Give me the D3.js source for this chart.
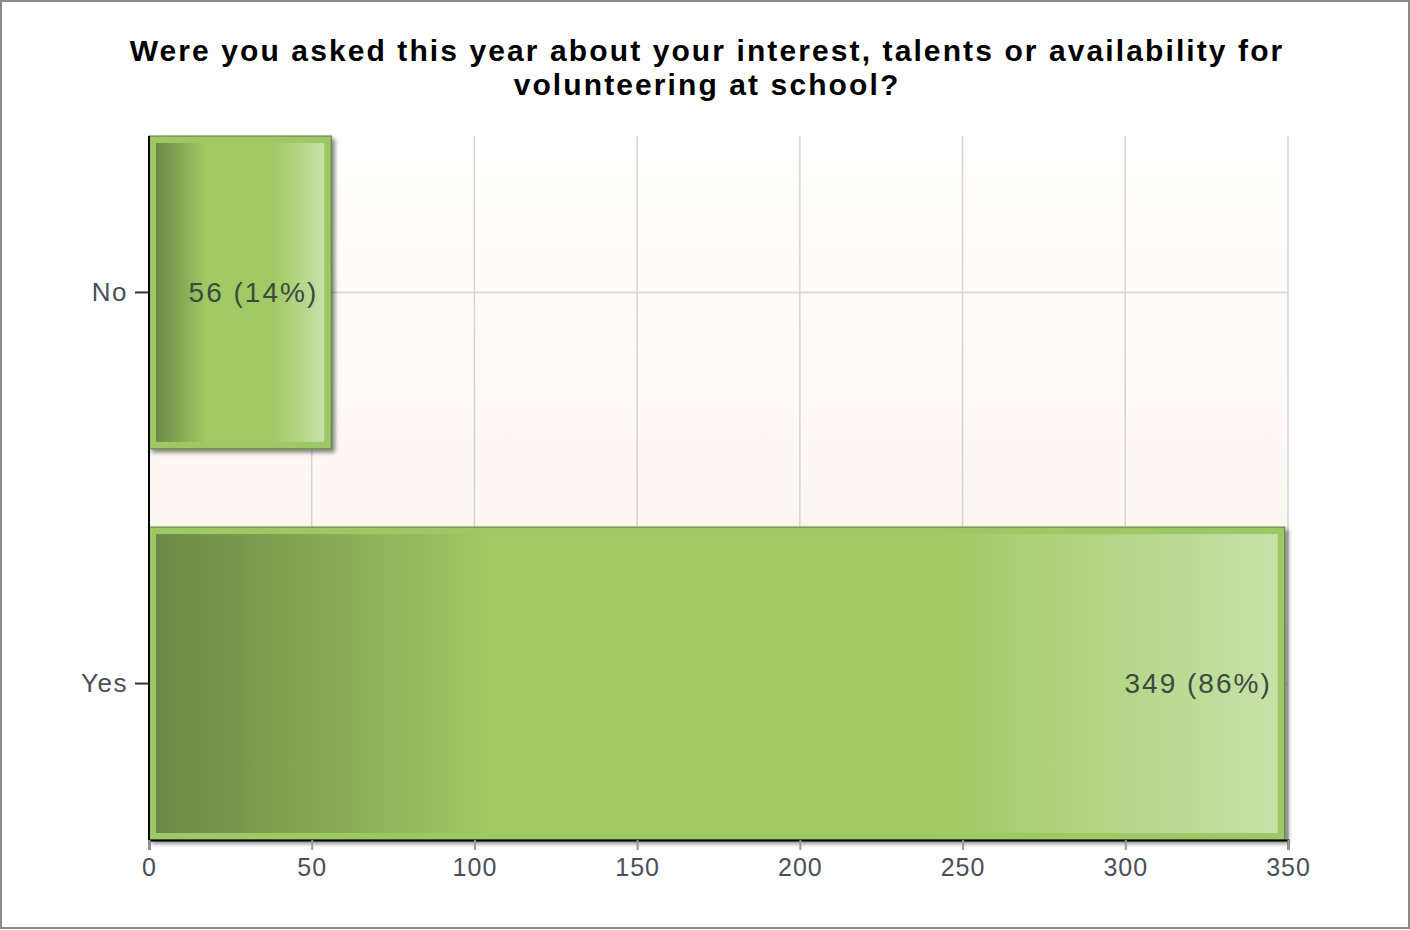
<!DOCTYPE html>
<html lang="en">
<head>
<meta charset="utf-8">
<title>Volunteering question</title>
<script src="https://cdn.jsdelivr.net/npm/d3@7"></script>
<style>
  body { margin: 0; background: #fff; }
  svg text { font-family: "Liberation Sans", Arial, sans-serif; }
</style>
</head>
<body>
<script>
var categories = ["No", "Yes"];
var counts = [56, 349];
var percents = ["14%", "86%"];
var xTicks = [0, 50, 100, 150, 200, 250, 300, 350];
var titleLines = ["Were you asked this year about your interest, talents or availability for",
                  "volunteering at school?"];

var W = 1410, H = 930;
var margin = {top: 136, right: 122, bottom: 90, left: 149};
var width = W - margin.left - margin.right,
    height = H - margin.top - margin.bottom;

var svg = d3.select("body").append("svg")
    .attr("width", W)
    .attr("height", H);

var defs = svg.append("defs");

var bg = defs.append("linearGradient").attr("id", "bg")
    .attr("x1", 0).attr("y1", 0).attr("x2", 0).attr("y2", 1);
bg.append("stop").attr("offset", "0%").attr("stop-color", "#ffffff");
bg.append("stop").attr("offset", "100%").attr("stop-color", "#fbf0e6");

var barGrad = defs.append("linearGradient").attr("id", "barGrad")
    .attr("x1", 0).attr("y1", 0).attr("x2", 1).attr("y2", 0);
[["0%", "#6b8944"], ["30%", "#9fca64"], ["70%", "#9fca64"], ["100%", "#c8e1a8"]]
  .forEach(function(s) {
    barGrad.append("stop").attr("offset", s[0]).attr("stop-color", s[1]);
  });

var shadow = defs.append("filter").attr("id", "shadow")
    .attr("x", "-5%").attr("y", "-5%").attr("width", "115%").attr("height", "115%");
shadow.append("feDropShadow")
    .attr("dx", 3).attr("dy", 3).attr("stdDeviation", 2)
    .attr("flood-color", "#000").attr("flood-opacity", 0.5);

// outer frame
svg.append("rect")
    .attr("x", 1).attr("y", 1)
    .attr("width", W - 2).attr("height", H - 3)
    .attr("fill", "#fff")
    .attr("stroke", "#8a8a8a")
    .attr("stroke-width", 2);

// title
svg.append("g").selectAll("text")
    .data(titleLines)
    .enter().append("text")
    .attr("x", 707)
    .attr("y", function(d, i) { return 61 + i * 34; })
    .attr("text-anchor", "middle")
    .attr("font-size", "30px")
    .attr("font-weight", "bold")
    .attr("letter-spacing", "2.1px")
    .attr("fill", "#000")
    .text(function(d) { return d; });

var g = svg.append("g")
    .attr("transform", "translate(" + margin.left + "," + margin.top + ")");

var x = d3.scaleLinear().domain([0, 350]).range([0, width]);
var y = d3.scaleBand().domain(categories).range([0, height])
    .paddingInner(0.2).paddingOuter(0);

g.append("rect")
    .attr("width", width).attr("height", height)
    .attr("fill", "url(#bg)");

// gridlines
g.selectAll(".vgrid")
    .data(xTicks.slice(1))
    .enter().append("line")
    .attr("class", "vgrid")
    .attr("x1", function(d) { return x(d); })
    .attr("x2", function(d) { return x(d); })
    .attr("y1", 0).attr("y2", height)
    .attr("stroke", "#d4d4d4").attr("stroke-width", 1.5);

g.selectAll(".hgrid")
    .data(categories)
    .enter().append("line")
    .attr("class", "hgrid")
    .attr("x1", 0).attr("x2", width)
    .attr("y1", function(d) { return y(d) + y.bandwidth() / 2; })
    .attr("y2", function(d) { return y(d) + y.bandwidth() / 2; })
    .attr("stroke", "#d4d4d4").attr("stroke-width", 1.5);

// bars
var bars = g.selectAll(".bar")
    .data(categories)
    .enter().append("g")
    .attr("class", "bar");

bars.append("rect")
    .attr("x", 0)
    .attr("y", function(d) { return y(d); })
    .attr("width", function(d, i) { return x(counts[i]); })
    .attr("height", y.bandwidth())
    .attr("fill", "#9dc865")
    .attr("stroke", "#5d7a3a")
    .attr("stroke-width", 1)
    .attr("filter", "url(#shadow)");

bars.append("rect")
    .attr("x", 7)
    .attr("y", function(d) { return y(d) + 7; })
    .attr("width", function(d, i) { return x(counts[i]) - 14; })
    .attr("height", y.bandwidth() - 14)
    .attr("fill", "url(#barGrad)");

bars.append("text")
    .attr("x", function(d, i) { return x(counts[i]) - 13; })
    .attr("y", function(d) { return y(d) + y.bandwidth() / 2; })
    .attr("dy", "0.35em")
    .attr("text-anchor", "end")
    .attr("font-size", "28px")
    .attr("letter-spacing", "2px")
    .attr("fill", "#3d4a40")
    .text(function(d, i) { return counts[i] + " (" + percents[i] + ")"; });

// axes
var xAxis = g.append("g")
    .attr("transform", "translate(0," + height + ")")
    .call(d3.axisBottom(x).tickValues(xTicks).tickSize(10).tickPadding(8));
xAxis.select(".domain").attr("stroke", "#000").attr("stroke-width", 2);
xAxis.selectAll(".tick line").attr("stroke", "#999").attr("stroke-width", 2);
xAxis.selectAll(".tick text")
    .attr("font-size", "25px")
    .attr("letter-spacing", "1px")
    .attr("fill", "#4a4f5a");

var yAxis = g.append("g")
    .call(d3.axisLeft(y).tickSize(14).tickPadding(7));
yAxis.select(".domain").attr("stroke", "#000").attr("stroke-width", 2)
    .attr("d", "M0,0V" + height);
yAxis.selectAll(".tick line").attr("stroke", "#333").attr("stroke-width", 2);
yAxis.selectAll(".tick text")
    .attr("font-size", "26px")
    .attr("letter-spacing", "1.5px")
    .attr("fill", "#4a4f5a");
</script>
</body>
</html>
